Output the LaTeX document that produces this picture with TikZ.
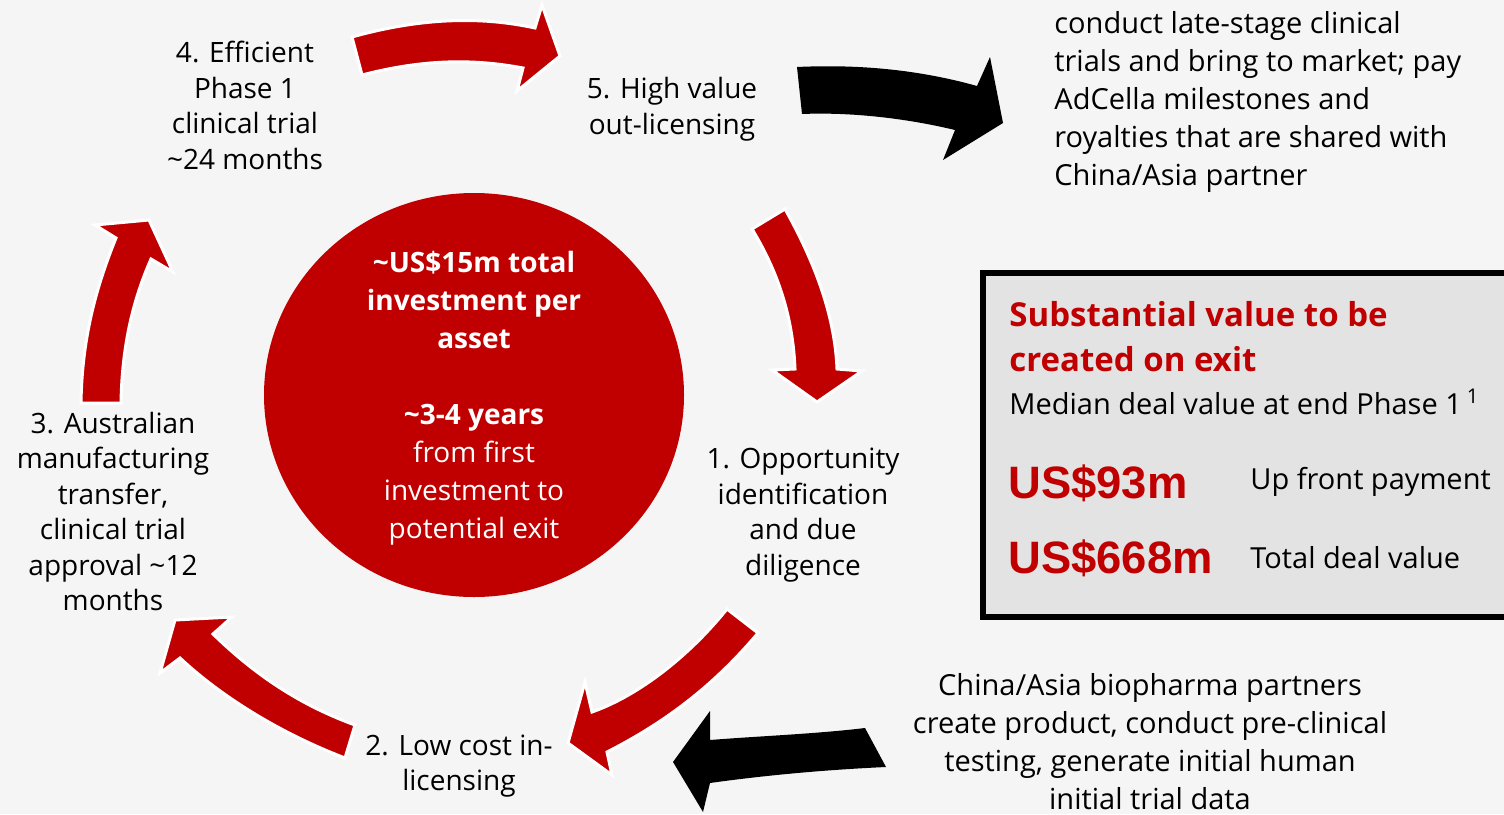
\documentclass[tikz,border=0pt]{standalone}
\usepackage{fontspec}
\setmainfont{Open Sans}
\newfontfamily\arialf{Liberation Sans}
\usetikzlibrary{shapes.geometric}
\definecolor{myred}{HTML}{C00000}
\definecolor{bgc}{HTML}{F5F5F5}
\definecolor{boxc}{HTML}{E3E3E3}
\tikzset{
  lbl/.style={inner sep=0pt, align=center, font=\fontsize{14}{17.75}\selectfont},
  side/.style={inner sep=0pt, font=\fontsize{14.5}{19}\selectfont},
  redarrow/.style={fill=myred, draw=white, line width=1.5pt, line join=miter},
  blackarrow/.style={fill=black},
  hubtext/.style={inner sep=0pt, align=center, text=white, font=\fontsize{14}{19}\selectfont},
  bigval/.style={inner sep=0pt, anchor=west, text=myred, font=\arialf\bfseries\fontsize{22.7}{26}\selectfont},
  vallbl/.style={inner sep=0pt, anchor=west, font=\fontsize{14.5}{18}\selectfont}
}
\begin{document}
\begin{tikzpicture}[x=0.5pt,y=-0.5pt]
\useasboundingbox (0,0) rectangle (1504,814);
\clip (0,0) rectangle (1504,814);
\fill[bgc] (0,0) rectangle (1504,814);

% central disc
\node[ellipse, fill=myred, minimum width=210pt, minimum height=202pt, inner sep=0pt] (hub) at (474,395) {};
\node[hubtext] (hubt) at (474,398) {\textbf{\textasciitilde US\$15m total}\\\textbf{investment per}\\\textbf{asset}\\[19pt]\textbf{\textasciitilde3-4 years}\\from first\\investment to\\potential exit};

% cycle labels
\node[lbl] (s4) at (245,105.5) {4. Efficient\\Phase 1\\clinical trial\\\textasciitilde24 months};
\node[lbl] (s5) at (672,109) {5. High value\\out-licensing};
\node[lbl] (s1) at (803,515) {1. Opportunity\\identification\\and due\\diligence};
\node[lbl] (s2) at (459,766) {2. Low cost in-\\licensing};
\node[lbl] (s3) at (113,511.5) {3. Australian\\manufacturing\\transfer,\\clinical trial\\approval \textasciitilde12\\months};

% side texts
\node[side, anchor=west, align=left] (tr) at (1054,101.5) {conduct late-stage clinical\\trials and bring to market; pay\\AdCella milestones and\\royalties that are shared with\\China/Asia partner};
\node[side, align=center] (br) at (1150,741.5) {China/Asia biopharma partners\\create product, conduct pre-clinical\\testing, generate initial human\\initial trial data};

% value box
\draw[line width=3pt, fill=boxc] (983,273) rectangle (1515,617);
\node[inner sep=0pt, anchor=west, align=left, text=myred, font=\bfseries\fontsize{16.5}{22.5}\selectfont] (bt) at (1009,336.5) {Substantial value to be\\created on exit};
\node[vallbl] (bm) at (1009,402) {Median deal value at end Phase 1\,\textsuperscript{1}};
\node[bigval] (v1) at (1008,483) {US\$93m};
\node[vallbl] (l1) at (1250,482) {Up front payment};
\node[bigval] (v2) at (1008,558) {US\$668m};
\node[vallbl] (l2) at (1250,558) {Total deal value};

% red cycle arrows
% 4 -> 5
\draw[redarrow] (352,37) .. controls (420,18) and (480,16) .. (535,28) -- (542,5) -- (560,56) -- (517,91) -- (523,68) .. controls (470,58) and (420,60) .. (362,75) -- cycle;
% 5 -> 1
\draw[redarrow] (752,229) -- (785,209) .. controls (818,268) and (835,320) .. (837,369) -- (862,371) -- (817,402) -- (772,370) -- (795,369) .. controls (793,320) and (780,275) .. cycle;
% 1 -> 2
\draw[redarrow] (727,609) -- (758,633) .. controls (710,690) and (660,725) .. (607,752) -- (612,775) -- (568,743) -- (585,682) -- (592,712) .. controls (640,695) and (690,655) .. cycle;
% 2 -> 3
\draw[redarrow] (355,725) -- (345,758) .. controls (285,735) and (225,700) .. (180,658) -- (160,673) -- (175,620) -- (232,617) -- (213,634) .. controls (255,675) and (300,705) .. cycle;
% 3 -> 4
\draw[redarrow] (81,403) -- (121,403) .. controls (122,345) and (133,300) .. (151,259) -- (173,272) -- (149,220) -- (95,225) -- (116,238) .. controls (95,290) and (82,340) .. cycle;

% black arrows
\fill[blackarrow] (797,67) .. controls (860,64) and (920,70) .. (977,86) -- (990,57) -- (1003,123) -- (943,160) -- (955,130) .. controls (905,118) and (850,112) .. (802,114) -- cycle;
\fill[blackarrow] (886,767) .. controls (820,770) and (760,776) .. (710,783) -- (703,812) -- (673,762) -- (710,711) -- (710,740) .. controls (760,736) and (815,734) .. (865,728) -- cycle;
\end{tikzpicture}
\end{document}
